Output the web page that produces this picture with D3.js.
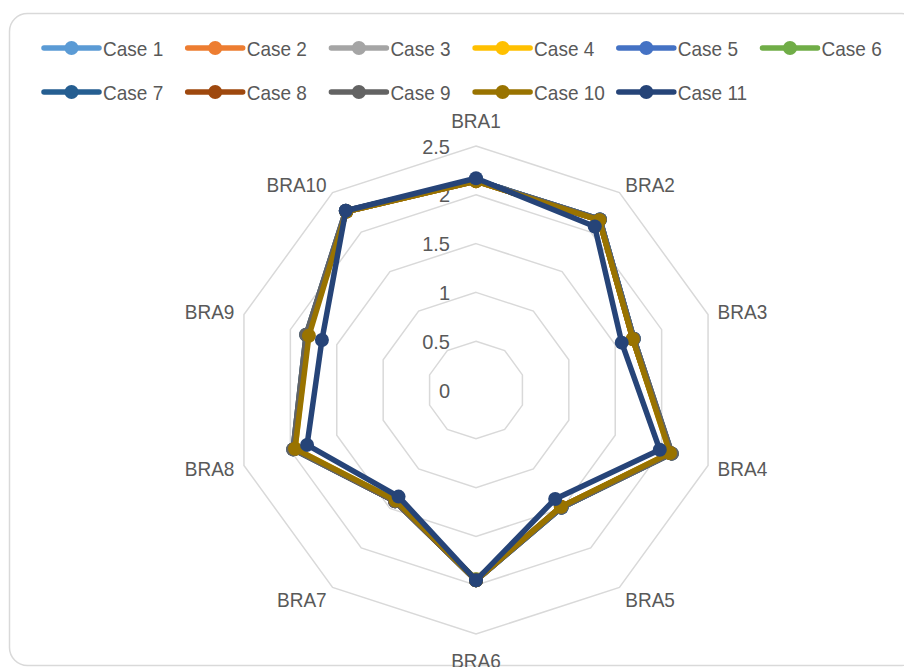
<!DOCTYPE html>
<html><head><meta charset="utf-8">
<script src="https://cdn.jsdelivr.net/npm/d3@7"></script>
<style>html,body{margin:0;padding:0;background:#fff;}svg{display:block;}</style>
</head><body>
<svg id="chart" width="904" height="667"></svg>
<script>
const axes = ["BRA1","BRA2","BRA3","BRA4","BRA5","BRA6","BRA7","BRA8","BRA9","BRA10"];
const seriesNames = ["Case 1","Case 2","Case 3","Case 4","Case 5","Case 6","Case 7","Case 8","Case 9","Case 10","Case 11"];
const colors = ["#5B9BD5","#ED7D31","#A5A5A5","#FFC000","#4472C4","#70AD47","#255E91","#9E480E","#636363","#997300","#264478"];
const case1  = [2.15,2.16,1.70,2.10,1.49,1.95,1.41,1.96,1.82,2.26];
const case2  = [2.14,2.15,1.69,2.10,1.48,1.94,1.40,1.96,1.82,2.26];
const case3  = [2.15,2.16,1.70,2.11,1.49,1.95,1.41,1.97,1.83,2.27];
const case4  = [2.14,2.15,1.69,2.09,1.48,1.95,1.40,1.95,1.81,2.26];
const case5  = [2.15,2.16,1.70,2.10,1.49,1.95,1.41,1.96,1.82,2.26];
const case6  = [2.14,2.15,1.69,2.10,1.48,1.94,1.40,1.96,1.82,2.26];
const case7  = [2.15,2.16,1.70,2.11,1.49,1.95,1.41,1.97,1.83,2.27];
const case8  = [2.14,2.15,1.69,2.10,1.48,1.95,1.41,1.96,1.82,2.26];
const case9  = [2.15,2.16,1.70,2.11,1.49,1.95,1.41,1.97,1.83,2.27];
const case10 = [2.14,2.15,1.69,2.09,1.48,1.95,1.40,1.95,1.80,2.26];
const case11 = [2.17,2.07,1.57,1.98,1.38,1.95,1.35,1.82,1.66,2.27];
const seriesValues = [case1,case2,case3,case4,case5,case6,case7,case8,case9,case10,case11];
const ringTicks = [0,0.5,1,1.5,2,2.5];
const ringLabels = ["0","0.5","1","1.5","2","2.5"];

const svg = d3.select("#chart");
const font = "'Liberation Sans', Arial, sans-serif";
const textColor = "#595959";

// taller but condensed text (Calibri-like proportions)
function addText(sel, baseSize, bigSize) {
  sel.attr("font-size", baseSize);
  const w = sel.node().getComputedTextLength();
  sel.attr("font-size", bigSize).attr("textLength", w).attr("lengthAdjust","spacingAndGlyphs");
  return sel;
}

svg.append("rect").attr("x",9.5).attr("y",13.5).attr("width",910).attr("height",652)
  .attr("rx",18).attr("fill","#fff").attr("stroke","#d9d9d9").attr("stroke-width",1.5);

const cx = 476, cy = 390;
const r = d3.scaleLinear().domain([0,2.5]).range([0,244]);
const ang = d3.scaleLinear().domain([0, axes.length]).range([0, 2*Math.PI]);
const pt = (i, v) => [cx + r(v)*Math.sin(ang(i)), cy - r(v)*Math.cos(ang(i))];

const g = svg.append("g");
ringTicks.forEach(t => {
  if (t === 0) return;
  const pts = axes.map((a,i) => pt(i,t));
  g.append("path").attr("d", d3.line()(pts) + "Z")
    .attr("fill","none").attr("stroke","#d9d9d9").attr("stroke-width",1.5);
});
ringTicks.forEach((t,k) => {
  const tx = g.append("text").attr("x", cx - 26).attr("y", cy - r(t))
    .attr("text-anchor","end").attr("dominant-baseline","central")
    .attr("font-family",font).attr("fill",textColor).text(ringLabels[k]);
  addText(tx, 20, 21);
});
axes.forEach((a,i) => {
  const th = ang(i), s = Math.sin(th), c = Math.cos(th);
  const R = r(2.5) + 10;
  let lx = cx + R*s, ly = cy - R*c, anchor;
  if (Math.abs(s) < 0.01) { anchor = "middle"; ly += (c > 0 ? -16 : 16); }
  else anchor = s > 0 ? "start" : "end";
  if (Math.abs(s) > 0.01 && c < -0.5) ly += 4;
  const tx = g.append("text").attr("x",lx).attr("y",ly).attr("text-anchor",anchor)
    .attr("dominant-baseline","central").attr("font-family",font)
    .attr("fill",textColor).text(a);
  addText(tx, 19, 21);
});
const line = d3.line().curve(d3.curveLinearClosed);
seriesValues.forEach((vals, si) => {
  const pts = vals.map((v,i) => pt(i,v));
  const sg = g.append("g");
  sg.append("path").attr("d", line(pts)).attr("fill","none").attr("stroke",colors[si])
    .attr("stroke-width",5.5).attr("stroke-linejoin","round");
  sg.selectAll("circle").data(pts).join("circle").attr("cx",d=>d[0]).attr("cy",d=>d[1])
    .attr("r",7).attr("fill",colors[si]);
});
const legX = d3.scaleLinear().domain([0,1]).range([44, 44+143.7]);
seriesNames.forEach((n, si) => {
  const row = si < 6 ? 0 : 1, col = si < 6 ? si : si - 6;
  const x0 = legX(col), y0 = row === 0 ? 48 : 92;
  const lg = svg.append("g");
  lg.append("line").attr("x1",x0).attr("x2",x0+55).attr("y1",y0).attr("y2",y0)
    .attr("stroke",colors[si]).attr("stroke-width",5.5).attr("stroke-linecap","round");
  lg.append("circle").attr("cx",x0+27.5).attr("cy",y0).attr("r",7).attr("fill",colors[si]);
  const tx = lg.append("text").attr("x",x0+59).attr("y",y0).attr("dominant-baseline","central")
    .attr("font-family",font).attr("fill",textColor).text(n);
  addText(tx, 19, 21);
});
</script>
</body></html>
